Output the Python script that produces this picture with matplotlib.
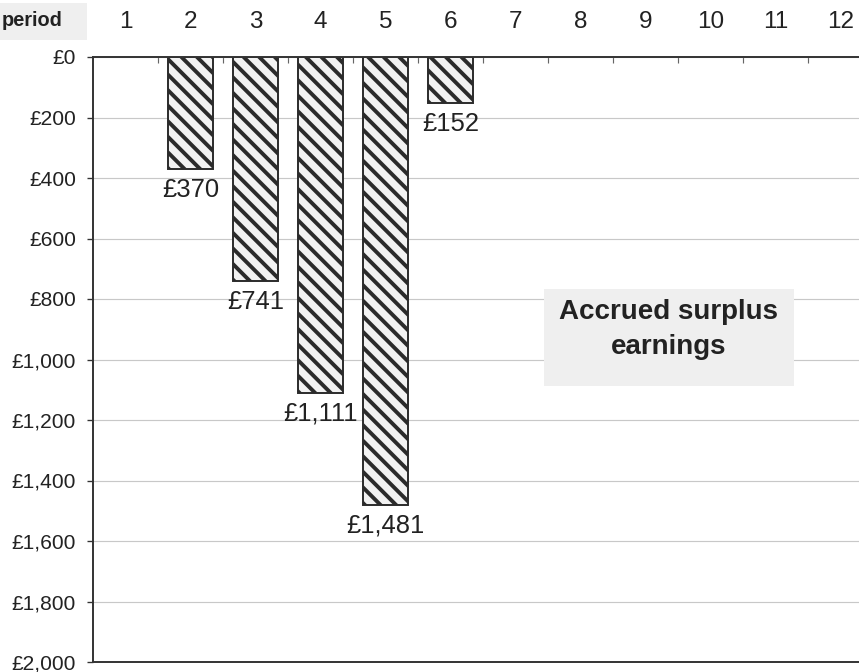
import numpy as np
import matplotlib
matplotlib.use('Agg')
import matplotlib.pyplot as plt
from matplotlib.patches import Rectangle
from matplotlib.ticker import FixedLocator, FuncFormatter

plt.rcParams['font.family'] = ['Liberation Sans', 'DejaVu Sans']
plt.rcParams['hatch.linewidth'] = 2.0
plt.rcParams['hatch.color'] = '#2b2b2b'

# accrued surplus per period (0 = nothing accrued)
periods = [1, 2, 3, 4, 5, 6, 7, 8, 9, 10, 11, 12]
surplus = [0, 370, 741, 1111, 1481, 152, 0, 0, 0, 0, 0, 0]
yTicks = [0, 200, 400, 600, 800, 1000, 1200, 1400, 1600, 1800, 2000]
boxText = 'Accrued surplus\nearnings'
periodLabel = 'period'

DPI = 140
W, H = 859, 672


def pounds(v, pos=None):
    return '£{:,}'.format(int(v))


def draw_chart():
    fig = plt.figure(figsize=(W / DPI, H / DPI), dpi=DPI)
    # axes run a little past the right edge of the figure
    ax = fig.add_axes([93 / W, 1 - 662 / H, 780 / W, 605 / H])

    xPos = np.arange(len(periods))
    vals = np.array(surplus, dtype=float)
    mask = vals > 0
    ax.bar(xPos[mask], vals[mask], width=0.69, color='#f2f2f2',
           edgecolor='#2b2b2b', linewidth=1.0, hatch='\\\\\\', zorder=2)

    for x, v in zip(xPos[mask], vals[mask]):
        ax.annotate(pounds(v), xy=(x, v), xytext=(0, -4.5),
                    textcoords='offset points', ha='center', va='top',
                    fontsize=13.2, color='#222222', zorder=4)

    ax.set_xlim(-0.5, len(periods) - 0.5)
    ax.set_ylim(2000, 0)

    # period numbers along the top, tick marks between periods
    ax.xaxis.tick_top()
    ax.set_xticks(xPos)
    ax.set_xticklabels([str(p) for p in periods])
    ax.xaxis.set_minor_locator(FixedLocator(xPos[:-1] + 0.5))
    ax.tick_params(axis='x', which='major', length=0, pad=12.5,
                   labelsize=12.5, labelcolor='#222222')
    ax.tick_params(axis='x', which='minor', direction='in', length=3,
                   width=0.6, color='#666666')

    ax.set_yticks(yTicks)
    ax.yaxis.set_major_formatter(FuncFormatter(pounds))
    ax.tick_params(axis='y', direction='out', length=3.1, width=0.7,
                   color='#333333', pad=5.6, labelsize=10.8,
                   labelcolor='#222222')

    ax.yaxis.grid(True, color='#c8c8c8', linewidth=0.6, zorder=0)
    ax.set_axisbelow(True)

    for side in ['top', 'left', 'bottom']:
        ax.spines[side].set_color('#333333')
        ax.spines[side].set_linewidth(1.0)
    ax.spines['right'].set_visible(False)

    # grey panel with the caption
    ax.add_patch(Rectangle((0.578, 0.456), 0.3205, 0.160,
                           transform=ax.transAxes, fc='#efefef',
                           ec='none', zorder=4))
    ax.text(0.738, 0.549, boxText, transform=ax.transAxes, ha='center',
            va='center', fontsize=14.3, fontweight='bold', color='#222222',
            linespacing=1.45, zorder=5)

    # label tab at the top-left corner
    fig.add_artist(Rectangle((0, 1 - 40 / H), 87 / W, 37 / H,
                             transform=fig.transFigure, fc='#efefef',
                             ec='none', zorder=0))
    fig.text(63 / W, 1 - 20 / H, periodLabel, ha='right', va='center',
             fontsize=10.3, fontweight='bold', color='#222222')

    fig.savefig('out.png', dpi=DPI)


if __name__ == "__main__":
    draw_chart()
